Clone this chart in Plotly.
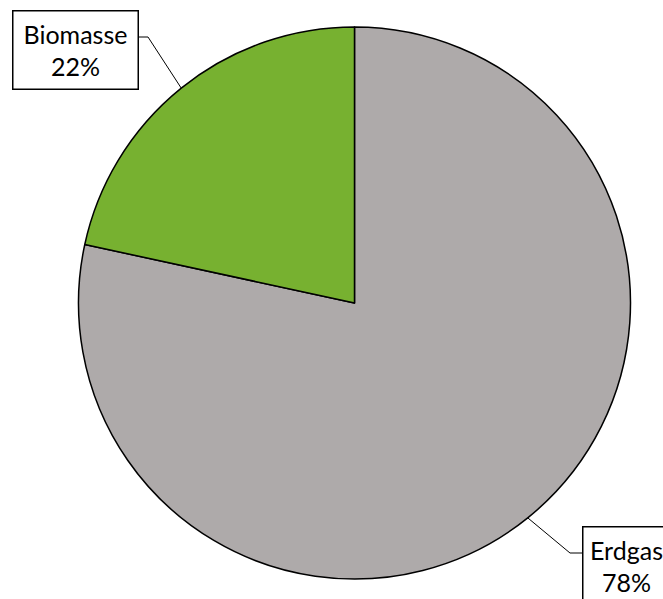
import math
import plotly.graph_objects as go

labels = ["Erdgas", "Biomasse"]
values = [78.4, 21.6]
colors = ["#AEAAAA", "#77B130"]

W, H = 663, 599
cx, cy, r = 354.5, 303.0, 276.0

fig = go.Figure(go.Pie(
    labels=labels, values=values, sort=False, direction="clockwise",
    rotation=0, textinfo="none", hoverinfo="label+percent",
    marker=dict(colors=colors, line=dict(color="black", width=1.5)),
    domain=dict(x=[(cx - r) / W, (cx + r) / W], y=[1 - (cy + r) / H, 1 - (cy - r) / H]),
    showlegend=False,
))

def px(x):
    return x / W

def py(y):
    return 1 - y / H

total = sum(values)
cum = 0
mids = []
for v in values:
    a = (cum + v / 2) / total * 2 * math.pi
    mids.append((cx + r * math.sin(a), cy - r * math.cos(a)))
    cum += v

font = dict(family="Lato, Open Sans, sans-serif", size=25, color="black")

# label boxes in px, keyed by label
boxes = {
    "Biomasse": dict(left=12, top=10, w=124, h=77, lead_y=37, elbow=148, side="left"),
    "Erdgas": dict(left=582, top=526, w=86, h=77, lead_y=553, elbow=570, side="right"),
}

annotations = []
shapes = []
for i, (lab, v) in enumerate(zip(labels, values)):
    b = boxes[lab]
    pct = round(v / total * 100)
    annotations.append(dict(
        x=px(b["left"]), y=py(b["top"]), xref="paper", yref="paper",
        xanchor="left", yanchor="top", showarrow=False,
        text=f"{lab}<br>{pct}%", align="center", valign="middle",
        width=b["w"], height=b["h"], bordercolor="black", borderwidth=1.5,
        borderpad=0, bgcolor="white", font=font,
    ))
    edge_x = b["left"] + b["w"] + 1 if b["side"] == "left" else b["left"]
    mx, my = mids[i]
    path = f"M {px(edge_x)},{py(b['lead_y'])} L {px(b['elbow'])},{py(b['lead_y'])} L {px(mx)},{py(my)}"
    shapes.append(dict(type="path", xref="paper", yref="paper", path=path,
                       line=dict(color="black", width=1)))

fig.update_layout(
    width=W, height=H, margin=dict(l=0, r=0, t=0, b=0),
    paper_bgcolor="white", plot_bgcolor="white",
    annotations=annotations, shapes=shapes,
)

fig.write_html("out.html")
